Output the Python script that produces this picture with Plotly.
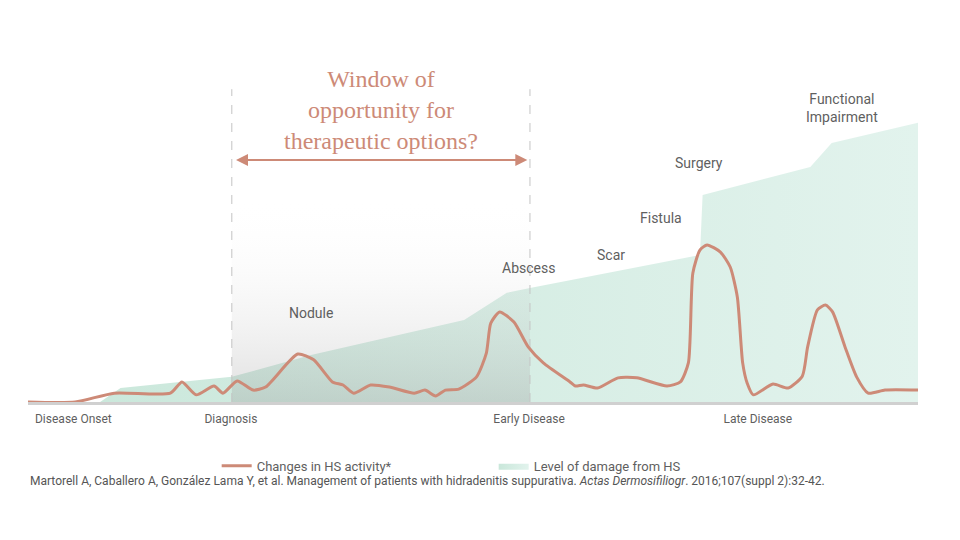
import plotly.graph_objects as go

# timeline (0-100) and intensity (0-100)
activity_x = [0, 5.3, 9.7, 16.0, 17.3, 18.9, 20.9, 21.9, 23.5, 25.3, 26.7, 30.3,
              32.1, 34.2, 35.4, 36.6, 38.5, 40.6, 43.4, 44.6, 45.8, 46.9, 48.4,
              50.4, 51.5, 52.0, 53.0, 54.6, 56.2, 57.9, 60.9, 61.5, 62.4, 64.0,
              66.3, 68.4, 71.8, 73.3, 74.2, 74.7, 75.5, 76.3, 77.8, 78.9, 79.7,
              80.3, 80.8, 81.5, 83.7, 85.4, 87.0, 87.6, 88.7, 89.6, 90.4, 91.8,
              93.1, 94.4, 96.3, 100]
activity_y = [0, 0, 2.6, 2.6, 5.9, 2.1, 4.7, 2.6, 6.2, 3.5, 4.4, 14.1,
              12.4, 5.9, 5.0, 2.6, 5.0, 4.4, 2.6, 3.5, 1.8, 3.5, 3.8,
              7.4, 14.4, 23.2, 26.5, 23.5, 16.2, 11.5, 5.9, 4.7, 5.0, 4.1,
              7.1, 7.1, 4.7, 5.9, 11.5, 37.9, 44.7, 46.2, 44.1, 39.7, 30.9,
              11.5, 5.6, 2.1, 5.3, 4.1, 7.6, 16.2, 27.1, 28.5, 26.5, 16.2,
              7.4, 2.6, 3.5, 3.5]

damage_x = [0, 8.1, 10.4, 22.9, 31.8, 49.0, 53.8, 56.4, 75.5, 75.8, 87.9, 90.3, 100, 100]
damage_y = [0, 0, 4.1, 7.4, 13.8, 24.1, 32.1, 33.5, 43.2, 60.9, 69.1, 76.2, 82.1, 0]

window_x = [22.9, 56.4]
window_top = 60

stage_vals = [5.1, 22.8, 56.3, 82.0]
stage_text = ["Disease Onset", "Diagnosis", "Early Disease", "Late Disease"]

event_text = ["Nodule", "Abscess", "Scar", "Fistula", "Surgery", "Functional<br>Impairment"]
event_x = [31.8, 56.2, 65.5, 71.1, 75.4, 91.5]
event_y = [26.2, 39.4, 43.2, 54.1, 70.3, 86.5]

SALMON = "#cd8a77"
GREY_TXT = "#5f5f5f"

fig = go.Figure()

# damage area
fig.add_trace(go.Scatter(x=damage_x, y=damage_y,
                         mode="lines", fill="toself",
                         line=dict(width=0, color="#d3ece2"),
                         fillgradient=dict(type="horizontal",
                                           colorscale=[[0, "#c9e7da"], [1, "#e2f3ed"]]),
                         name="Level of damage from HS",
                         legendrank=2, hoverinfo="skip"))

# grey window of opportunity (gradient overlay)
fig.add_trace(go.Scatter(x=[window_x[0], window_x[1], window_x[1], window_x[0], window_x[0]],
                         y=[0, 0, window_top, window_top, 0],
                         mode="lines", fill="toself", line=dict(width=0),
                         fillgradient=dict(type="vertical",
                                           colorscale=[[0, "rgba(150,150,150,0.30)"],
                                                       [1, "rgba(255,255,255,0)"]]),
                         showlegend=False, hoverinfo="skip"))

# dashed window borders
for wx in window_x:
    fig.add_trace(go.Scatter(x=[wx, wx], y=[0, 92], mode="lines",
                             line=dict(color="#c4c4c4", width=1, dash="dash"),
                             showlegend=False, hoverinfo="skip"))

# activity line
fig.add_trace(go.Scatter(x=activity_x, y=activity_y, mode="lines",
                         line=dict(color=SALMON, width=3, shape="spline", smoothing=0.6),
                         name="Changes in HS activity*", legendrank=1,
                         hovertemplate="%{x:.0f}<br>%{y:.1f}<extra></extra>"))

# double-headed arrow
fig.add_annotation(x=window_x[1] - 0.3, y=71.2, ax=window_x[0] + 0.3, ay=71.2,
                   xref="x", yref="y", axref="x", ayref="y",
                   text="", showarrow=True, arrowhead=2, arrowside="end+start",
                   arrowsize=1.2, arrowwidth=2, arrowcolor=SALMON)

fig.add_annotation(x=39.7, y=85.9, xref="x", yref="y",
                   text="Window of<br>opportunity for<br>therapeutic options?",
                   showarrow=False, align="center",
                   font=dict(family="Liberation Serif", size=24, color=SALMON))

for t, ex, ey in zip(event_text, event_x, event_y):
    fig.add_annotation(x=ex, y=ey, text=t, showarrow=False,
                       font=dict(family="Roboto", size=14, color=GREY_TXT))

fig.add_annotation(x=0, y=-0.26, xref="paper", yref="paper", xanchor="left",
                   text=("Martorell A, Caballero A, González Lama Y, et al. Management of patients "
                         "with hidradenitis suppurativa. <i>Actas Dermosifiliogr</i>. "
                         "2016;107(suppl 2):32-42."),
                   showarrow=False,
                   font=dict(family="Roboto", size=12, color="#555555"))

fig.update_layout(width=960, height=540,
                  margin=dict(l=20, r=50, t=54, b=146),
                  paper_bgcolor="white", plot_bgcolor="white",
                  font=dict(family="Roboto", color=GREY_TXT),
                  xaxis=dict(range=[0, 100], showgrid=False, zeroline=False,
                             showline=True, linecolor="#d0d0d0", linewidth=3,
                             tickvals=stage_vals, ticktext=stage_text,
                             ticks="", ticklabelstandoff=4,
                             tickfont=dict(size=12, color=GREY_TXT)),
                  yaxis=dict(range=[0, 100], showgrid=False, zeroline=False,
                             showticklabels=False, showline=False),
                  legend=dict(orientation="h", x=0.212, y=-0.188,
                              xanchor="left", yanchor="middle",
                              entrywidth=232, traceorder="normal",
                              font=dict(size=13, color=GREY_TXT)),
                  showlegend=True)

fig.write_html("out.html")
